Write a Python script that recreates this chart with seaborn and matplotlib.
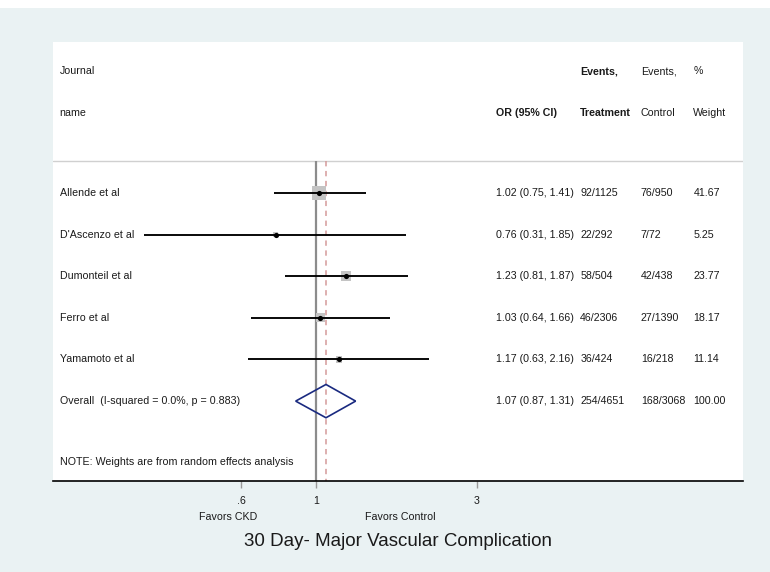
import numpy as np
import pandas as pd
import matplotlib
matplotlib.use("Agg")
import matplotlib.pyplot as plt
import matplotlib.transforms as mtransforms
from matplotlib.patches import Polygon, Rectangle
import seaborn as sns

# ── data ──────────────────────────────────────────────────────────────────────
studies   = ["Allende et al", "D'Ascenzo et al", "Dumonteil et al",
             "Ferro et al", "Yamamoto et al"]
odds      = [1.02, 0.76, 1.23, 1.03, 1.17]
ci_low    = [0.75, 0.31, 0.81, 0.64, 0.63]
ci_high   = [1.41, 1.85, 1.87, 1.66, 2.16]
ev_treat  = ["92/1125", "22/292", "58/504", "46/2306", "36/424"]
ev_ctrl   = ["76/950", "7/72", "42/438", "27/1390", "16/218"]
weights   = [41.67, 5.25, 23.77, 18.17, 11.14]

overall_label  = "Overall  (I-squared = 0.0%, p = 0.883)"
overall_or     = 1.07
overall_lo     = 0.87
overall_hi     = 1.31
overall_treat  = "254/4651"
overall_ctrl   = "168/3068"
overall_weight = 100.00

x_ticks      = [0.6, 1, 3]
x_ticklabels = [".6", "1", "3"]

BG    = "#EAF2F3"
NAVY  = "#1a2a80"
INK   = "#1a1a1a"
FS    = 7.7

sns.set_theme(style="white")
plt.rcParams["font.family"] = ["Liberation Sans", "DejaVu Sans"]

df = pd.DataFrame({"study": studies, "or": odds, "lo": ci_low, "hi": ci_high,
                   "w": weights, "row": np.arange(len(studies))})
overall_row = len(studies)

# ── figure / panel ────────────────────────────────────────────────────────────
W, H = 770, 572
fig = plt.figure(figsize=(W / 100, H / 100), dpi=100, facecolor=BG)
fig.patches.append(Rectangle((0, (H - 8) / H), 1, 8 / H, transform=fig.transFigure,
                             facecolor="white", edgecolor="none", zorder=0))
ax = fig.add_axes([53 / W, (H - 481) / H, 690 / W, 439 / H])
ax.set_facecolor("white")

ax.set_xscale("log")
ax.set_xlim(0.166, 18.44)
ax.set_ylim(6.92, -3.63)

sep_y, note_y = -0.77, 6.47
head1_y, head2_y = -2.93, -1.92

# reference lines
ax.axhline(sep_y, color="#d0d0d0", lw=1, zorder=1)
ax.vlines(1, sep_y, 6.92, color="#8c8c8c", lw=1.6, zorder=1)
ax.vlines(overall_or, sep_y, 6.92, color="#d49a9a", lw=1.1, linestyles=(0, (3.5, 3)),
          zorder=1)

# weight boxes, CIs and point estimates
sns.scatterplot(data=df, x="or", y="row", size="w",
                sizes=(2.2 * min(weights), 2.2 * max(weights)),
                size_norm=(min(weights), max(weights)),
                marker="s", color="#c4c4c4", linewidth=0, legend=False,
                ax=ax, zorder=2)
ax.hlines(df["row"], df["lo"], df["hi"], color="black", lw=1.35, zorder=3)
sns.scatterplot(data=df, x="or", y="row", s=14, color="black", linewidth=0,
                legend=False, ax=ax, zorder=4)

# overall diamond
diamond = Polygon([(overall_lo, overall_row), (overall_or, overall_row - 0.4),
                   (overall_hi, overall_row), (overall_or, overall_row + 0.4)],
                  closed=True, facecolor="none", edgecolor=NAVY, lw=1.2, zorder=3)
ax.add_patch(diamond)

# ── text columns ──────────────────────────────────────────────────────────────
tr = mtransforms.blended_transform_factory(ax.transAxes, ax.transData)
col_name, col_or, col_tr, col_ct, col_wt = 0.0095, 0.642, 0.764, 0.852, 0.928

def txt(x, y, s, bold=False):
    ax.text(x, y, s, transform=tr, fontsize=FS, va="center", ha="left",
            fontweight="bold" if bold else "normal", color=INK)

txt(col_name, head1_y, "Journal")
txt(col_name, head2_y, "name")
txt(col_or, head2_y, "OR (95% CI)", bold=True)
txt(col_tr, head1_y, "Events,", bold=True)
txt(col_tr, head2_y, "Treatment", bold=True)
txt(col_ct, head1_y, "Events,")
txt(col_ct, head2_y, "Control")
txt(col_wt, head1_y, "%")
txt(col_wt, head2_y, "Weight")

for i in range(len(studies)):
    txt(col_name, i, studies[i])
    txt(col_or, i, f"{odds[i]:.2f} ({ci_low[i]:.2f}, {ci_high[i]:.2f})")
    txt(col_tr, i, ev_treat[i])
    txt(col_ct, i, ev_ctrl[i])
    txt(col_wt, i, f"{weights[i]:.2f}")

txt(col_name, overall_row, overall_label)
txt(col_or, overall_row, f"{overall_or:.2f} ({overall_lo:.2f}, {overall_hi:.2f})")
txt(col_tr, overall_row, overall_treat)
txt(col_ct, overall_row, overall_ctrl)
txt(col_wt, overall_row, f"{overall_weight:.2f}")

txt(col_name, note_y, "NOTE: Weights are from random effects analysis")

# ── axis ──────────────────────────────────────────────────────────────────────
for side in ["top", "left", "right"]:
    ax.spines[side].set_visible(False)
ax.spines["bottom"].set_color("black")
ax.spines["bottom"].set_linewidth(1.2)
ax.set_yticks([])
ax.set_xticks(x_ticks)
ax.set_xticklabels(x_ticklabels)
ax.xaxis.set_minor_locator(matplotlib.ticker.NullLocator())
ax.tick_params(axis="x", direction="out", length=5, width=1, color="#999999",
               labelsize=FS, labelcolor=INK, pad=6, bottom=True)
ax.set_xlabel("")
ax.set_ylabel("")
ax.grid(False)

fig.text(228 / W, (H - 517) / H, "Favors CKD", fontsize=FS, ha="center",
         va="center", color=INK)
fig.text(400 / W, (H - 517) / H, "Favors Control", fontsize=FS, ha="center",
         va="center", color=INK)
fig.text(398 / W, (H - 541) / H, "30 Day- Major Vascular Complication",
         fontsize=13.5, ha="center", va="center", color=INK)

fig.savefig("out.png", dpi=100, facecolor=BG)
